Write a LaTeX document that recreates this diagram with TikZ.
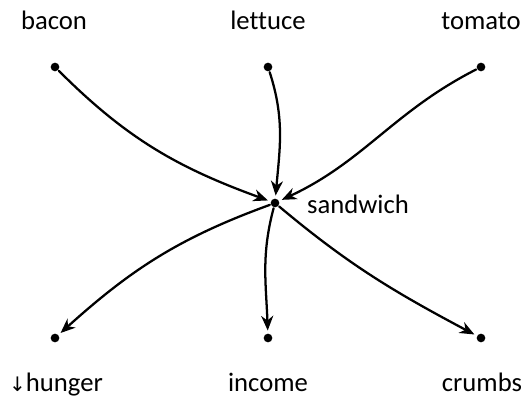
\documentclass[tikz,border=0pt]{standalone}
\usepackage{fontspec}
\setmainfont[Ligatures=NoCommon]{Carlito}
\usetikzlibrary{arrows.meta}

\begin{document}
\begin{tikzpicture}[x=0.75pt, y=0.75pt, line width=1.7pt, line cap=round,
    dot/.style={circle, fill, inner sep=0pt, minimum size=6.5pt},
    lbl/.style={font=\fontsize{20}{22}\selectfont, inner sep=0pt, anchor=base},
    link/.style={-{Stealth[length=11pt, width=9pt, inset=3.5pt]}, shorten >=1.5pt}]
  \useasboundingbox (0,0) rectangle (521,399);
  % inputs
  \node[dot] (bacon) at (55,332) {};
  \node[dot] (lettuce) at (268,332) {};
  \node[dot] (tomato) at (481,332) {};
  \node[dot] (sandwich) at (275,196) {};
  % outputs
  \node[dot] (hunger) at (55,61) {};
  \node[dot] (income) at (268,61) {};
  \node[dot] (crumbs) at (481,61) {};
  \node[lbl] (baconlbl) at (54,369) {bacon};
  \node[lbl] (lettucelbl) at (268,369) {lettuce};
  \node[lbl] (tomatolbl) at (481,369) {tomato};
  \node[lbl, anchor=base west] (sandwichlbl) at (306,185) {sandwich};
  \node[lbl] (hungerlbl) at (56,7) {\fontspec{DejaVu Sans}\fontsize{15}{16}\selectfont↓\fontspec{Carlito}\fontsize{20}{22}\selectfont hunger};
  \node[lbl] (incomelbl) at (268,7) {income};
  \node[lbl] (crumbslbl) at (482,7) {crumbs};
  \draw[link] (bacon) to[out=-45, in=160] (sandwich);
  \draw[link] (lettuce) to[out=-72, in=85] (sandwich);
  \draw[link] (tomato) to[out=-153, in=25] (sandwich);
  \draw[link] (sandwich) to[out=200, in=42] (hunger);
  \draw[link] (sandwich) to[out=-105, in=92] (income);
  \draw[link] (sandwich) to[out=-40, in=152] (crumbs);
\end{tikzpicture}
\end{document}
